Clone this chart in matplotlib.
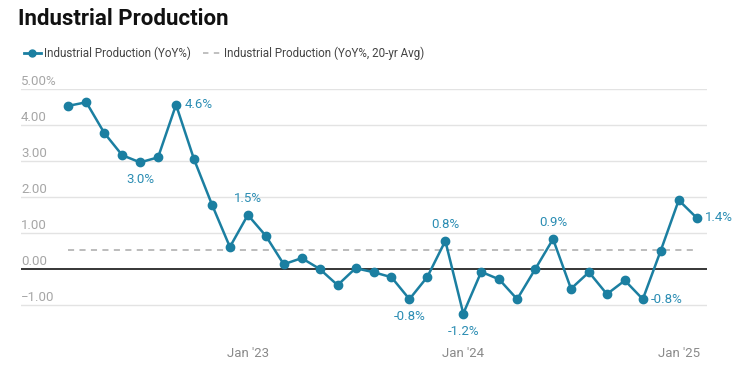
import matplotlib
matplotlib.use("Agg")
import matplotlib.pyplot as plt
import matplotlib.transforms as mtransforms
from matplotlib.lines import Line2D
import pandas as pd

plt.rcParams["font.family"] = ["Roboto", "DejaVu Sans"]

# monthly data, Mar 2022 .. Feb 2025
months = pd.date_range("2022-03-01", periods=36, freq="MS")
yoy = [4.54, 4.64, 3.79, 3.17, 2.97, 3.11, 4.57, 3.06, 1.80, 0.62,
       1.51, 0.93, 0.14, 0.31, 0.01, -0.44, 0.03, -0.08, -0.22, -0.83,
       -0.21, 0.79, -1.23, -0.07, -0.28, -0.83, 0.00, 0.84, -0.54, -0.08,
       -0.69, -0.31, -0.83, 0.52, 1.92, 1.43]
avg_20yr = 0.55

# annotated points: (index, text, position)
labels = [(4, "3.0%", "below"), (6, "4.6%", "right"), (10, "1.5%", "above"),
          (19, "-0.8%", "below"), (21, "0.8%", "above"), (22, "-1.2%", "below"),
          (27, "0.9%", "above"), (32, "-0.8%", "right"), (35, "1.4%", "right")]

yticks = [-1, 0, 1, 2, 3, 4, 5]
ytick_labels = ["\u22121.00", "0.00", "1.00", "2.00", "3.00", "4.00", "5.00%"]

LINE = "#1b7fa1"
LABEL = "#2b8db3"
GRID = "#e3e3e3"
TICK = "#a6a6a6"

x = list(range(len(yoy)))

fig = plt.figure(figsize=(7.43, 3.67), dpi=100)
ax = fig.add_axes([21 / 743, 1 - 323.3 / 367, 686 / 743, 234 / 367])
ax.set_xlim(-2.635, 35.575)
ax.set_ylim(-1.5, 5.0)

for v in yticks:
    if v == 0:
        continue
    ax.axhline(v, color=GRID, lw=1, zorder=1)
ax.axhline(0, color="black", lw=1.1, zorder=2)

tr = mtransforms.blended_transform_factory(ax.transAxes, ax.transData)
for v, t in zip(yticks, ytick_labels):
    ax.text(0, v + 0.04, t, transform=tr, ha="left", va="bottom",
            fontsize=9.5, color=TICK)

ax.plot([x[0], x[-1]], [avg_20yr, avg_20yr], color="#aaaaaa", lw=1.1,
        dashes=(4, 3.5), zorder=2)
ax.plot(x, yoy, color=LINE, lw=1.8, marker="o", ms=6, zorder=3)

for i, txt, pos in labels:
    y = yoy[i]
    if pos == "above":
        ax.annotate(txt, (i, y), xytext=(0, 7), textcoords="offset points",
                    ha="center", va="bottom", fontsize=9.5, color=LABEL)
    elif pos == "below":
        ax.annotate(txt, (i, y), xytext=(0, -8), textcoords="offset points",
                    ha="center", va="top", fontsize=9.5, color=LABEL)
    else:
        ax.annotate(txt, (i, y), xytext=(6, 0), textcoords="offset points",
                    ha="left", va="center", fontsize=9.5, color=LABEL)

jan_idx = [i for i, m in enumerate(months) if m.month == 1]
ax.set_xticks(jan_idx)
ax.set_xticklabels([m.strftime("Jan '%y") for m in months[months.month == 1]])
ax.tick_params(axis="x", length=0, pad=17, labelsize=9.5, labelcolor="#8a8a8a")
ax.set_yticks([])
for s in ax.spines.values():
    s.set_visible(False)

fig.text(18 / 743, 1 - 19 / 367, "Industrial Production", fontsize=16,
         fontweight="bold", color="#111111", ha="left", va="center")

handles = [
    Line2D([], [], color=LINE, lw=2, marker="o", ms=5),
    Line2D([], [], color="#bbbbbb", lw=1.3, dashes=(3, 3)),
]
fig.legend(handles, ["Industrial Production (YoY%)",
                     "Industrial Production (YoY%, 20-yr Avg)"],
           loc="center left", bbox_to_anchor=(13 / 743, 1 - 53 / 367),
           ncol=2, frameon=False, fontsize=8.4, labelcolor="#444444",
           handlelength=1.5, handletextpad=0.3, columnspacing=1.0)

fig.savefig("out.png", dpi=100)
plt.close(fig)
